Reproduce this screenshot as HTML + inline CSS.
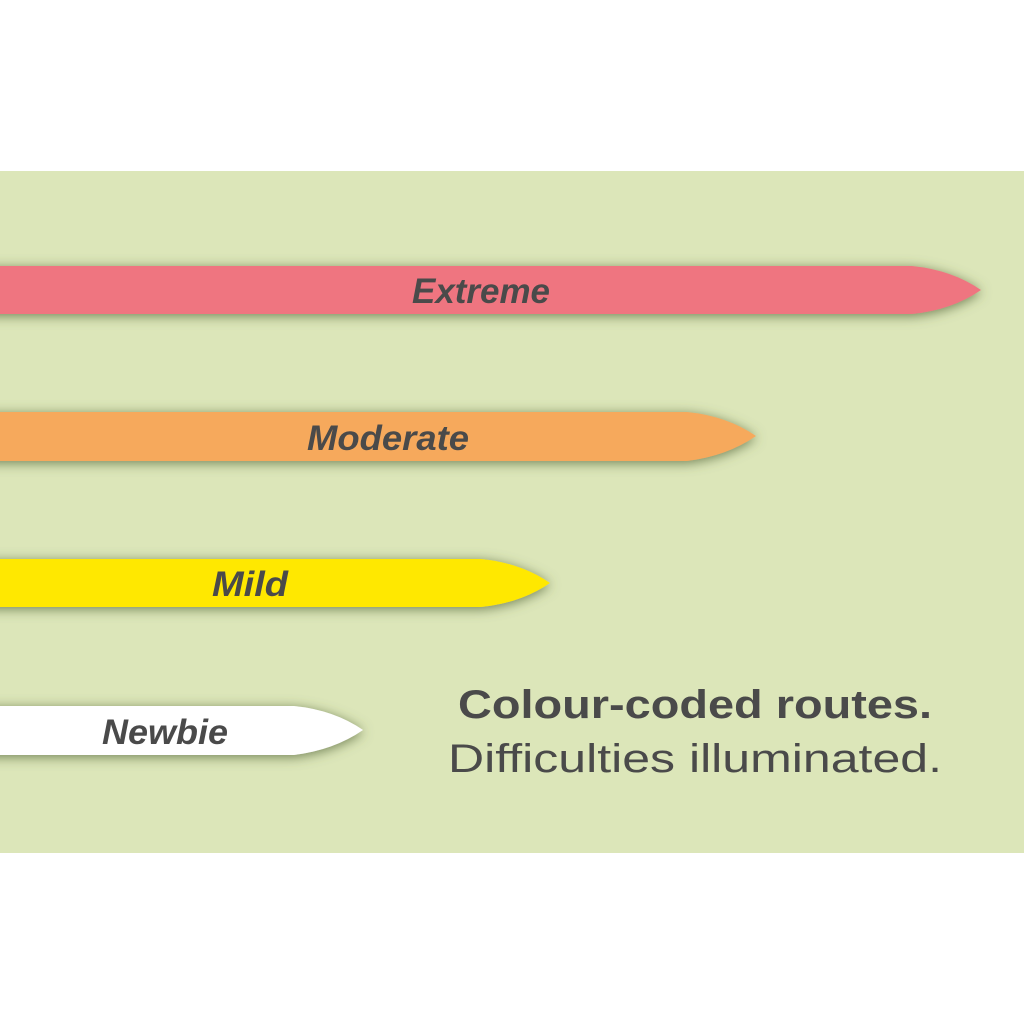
<!DOCTYPE html>
<html><head><style>
html,body{margin:0;padding:0;background:#fff;}
svg{display:block;}
</style></head><body>
<svg width="1024" height="1024" viewBox="0 0 1024 1024" xmlns="http://www.w3.org/2000/svg">
<defs>
<filter id="sh" x="-10%" y="-60%" width="120%" height="220%">
<feDropShadow dx="0" dy="2" stdDeviation="6" flood-color="#56673a" flood-opacity="0.8"/>
</filter>
</defs>
<rect x="0" y="0" width="1024" height="1024" fill="#fff"/>
<rect x="0" y="171" width="1024" height="682" fill="#dce6b9"/>
<g filter="url(#sh)">
<path d="M-20,266 H912 Q952,270 981,290 Q952,310 912,314 H-20 Z" fill="#ef7580"/>
<path d="M-20,412 H687 Q727,416 756,436 Q727,456 687,461 H-20 Z" fill="#f6a95c"/>
<path d="M-20,559 H481 Q521,563 550,583 Q521,603 481,607 H-20 Z" fill="#ffe800"/>
<path d="M-20,706 H294 Q334,710 363,730 Q334,750 294,755 H-20 Z" fill="#ffffff"/>
</g>
<g font-family="Liberation Sans, sans-serif" font-weight="bold" font-style="italic" font-size="35" fill="#4a4a4a" text-anchor="middle">
<text x="481" y="303" textLength="138" lengthAdjust="spacingAndGlyphs">Extreme</text>
<text x="388" y="450" textLength="162" lengthAdjust="spacingAndGlyphs">Moderate</text>
<text x="250" y="596" textLength="76" lengthAdjust="spacingAndGlyphs">Mild</text>
<text x="165" y="744" textLength="126" lengthAdjust="spacingAndGlyphs">Newbie</text>
</g>
<g font-family="Liberation Sans, sans-serif" fill="#4a4a4a" text-anchor="middle">
<text x="695" y="718" font-size="40" font-weight="bold" textLength="474" lengthAdjust="spacingAndGlyphs">Colour-coded routes.</text>
<text x="695" y="772" font-size="40" textLength="494" lengthAdjust="spacingAndGlyphs">Difficulties illuminated.</text>
</g>
</svg>
</body></html>
